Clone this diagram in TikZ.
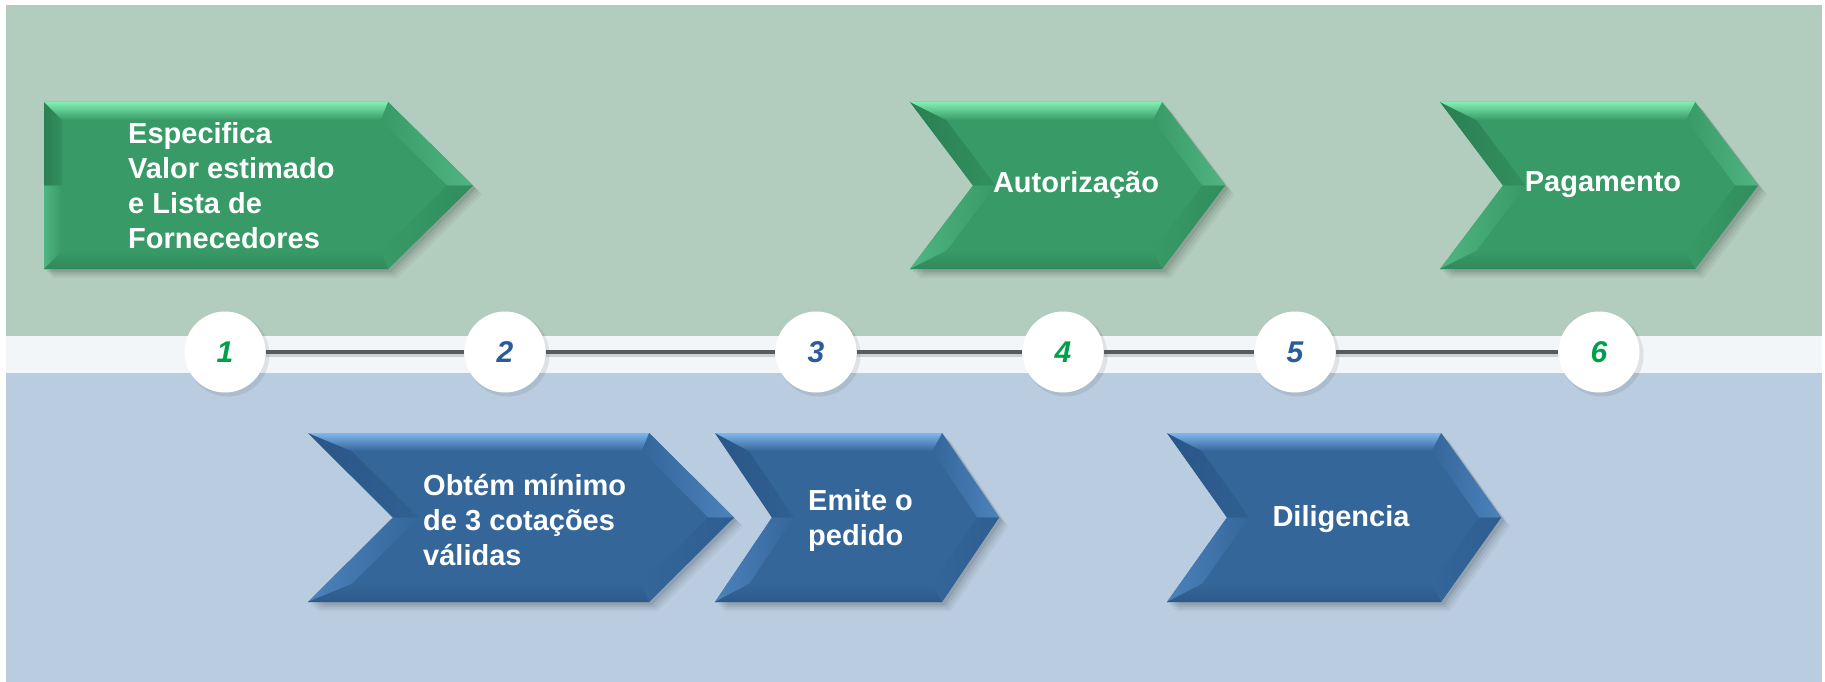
\documentclass[tikz,border=0pt]{standalone}
\usepackage{fontspec}
\setmainfont{Liberation Sans}
\definecolor{bggreen}{HTML}{B2CCBD}
\definecolor{bgblue}{HTML}{BACCDF}
\definecolor{bgwhite}{HTML}{F3F6F8}
\definecolor{gmain}{HTML}{389A67}
\definecolor{glight}{HTML}{4FB582}
\definecolor{gdark}{HTML}{2A8053}
\definecolor{ghi}{HTML}{80EEB2}
\definecolor{bmain}{HTML}{34669A}
\definecolor{blight}{HTML}{4C83BC}
\definecolor{bdark}{HTML}{2A5687}
\definecolor{bhi}{HTML}{7FB6EC}
\definecolor{numgreen}{HTML}{00A04B}
\definecolor{numblue}{HTML}{2B5C99}
\definecolor{linec}{HTML}{5A5A5A}
\tikzset{
  lbl/.style={text=white, font=\fontsize{29}{35}\selectfont\bfseries, align=left, inner sep=0pt},
  numc/.style={circle, fill=white, minimum size=81pt, inner sep=0pt, font=\fontsize{30}{36}\selectfont\bfseries\itshape},
  conn/.style={draw=linec, line width=4pt},
  connsh/.style={draw=black, opacity=0.15, line width=4pt},
}
% #1 x0, #2 notch x, #3 right top x, #4 tip x, #5 top y, #6 bottom y, #7 colour prefix
\newcommand\arrowshape[7]{%
  \pgfmathsetmacro\ym{(#5+#6)/2}%
  \pgfmathsetmacro\bvd{18}%
  \pgfmathsetmacro\mA{(#2-#1)/(\ym-#5)}%
  \pgfmathsetmacro\mB{(#4-#3)/(\ym-#5)}%
  \pgfmathsetmacro\sA{\bvd*sqrt(1+\mA*\mA)}%
  \pgfmathsetmacro\sB{\bvd*sqrt(1+\mB*\mB)}%
  \pgfmathsetmacro\xa{#1+\mA*\bvd+\sA}%
  \pgfmathsetmacro\xf{#2+\sA}%
  \pgfmathsetmacro\xb{#3+\mB*\bvd-\sB}%
  \pgfmathsetmacro\xc{#4-\sB}%
  \pgfmathsetmacro\yt{#5+\bvd}%
  \pgfmathsetmacro\yb{#6-\bvd}%
  \foreach \s/\o in {9/0.04,7/0.05,5/0.06,3/0.08}{%
    \fill[black,opacity=\o,shift={(\s,\s)}] (#1,#5) -- (#3,#5) -- (#4,\ym) -- (#3,#6) -- (#1,#6) -- (#2,\ym) -- cycle;}
  \fill[#7main] (#1,#5) -- (#3,#5) -- (#4,\ym) -- (#3,#6) -- (#1,#6) -- (#2,\ym) -- cycle;
  \shade[left color=#7dark, right color=#7main!60!#7dark] (#1,#5) -- (\xa,\yt) -- (\xf,\ym) -- (#2,\ym) -- cycle;
  \shade[left color=#7light, right color=#7main] (#2,\ym) -- (\xf,\ym) -- (\xa,\yb) -- (#1,#6) -- cycle;
  \shade[left color=#7main, right color=#7light] (#3,#5) -- (#4,\ym) -- (\xc,\ym) -- (\xb,\yt) -- cycle;
  \shade[left color=#7main, right color=#7dark!50!#7main] (#4,\ym) -- (#3,#6) -- (\xb,\yb) -- (\xc,\ym) -- cycle;
  \shade[top color=#7main, bottom color=#7main!88!black] (#1,#6) -- (#3,#6) -- (\xb,\yb) -- (\xa,\yb) -- cycle;
  \shade[top color=#7hi, bottom color=#7main] (#1,#5) -- (#3,#5) -- (\xb,\yt) -- (\xa,\yt) -- cycle;
}
\begin{document}
\begin{tikzpicture}[x=1pt,y=-1pt]
\useasboundingbox (0,0) rectangle (1825,682);
\fill[white] (0,0) rectangle (1825,682);
% background bands
\fill[bggreen] (6,5) rectangle (1822,336);
\fill[bgwhite] (6,336) rectangle (1822,373);
\fill[bgblue] (6,373) rectangle (1822,682);
% green steps
\arrowshape{44}{44}{388}{473}{102}{269}{g}
\arrowshape{910}{973}{1162}{1225}{102}{269}{g}
\arrowshape{1440}{1503}{1695}{1758}{102}{269}{g}
% blue steps
\arrowshape{308}{393}{649}{734}{433}{602}{b}
\arrowshape{715}{772}{942}{999}{433}{602}{b}
\arrowshape{1167}{1227}{1441}{1501}{433}{602}{b}
% texts
\node[lbl, anchor=west] (t1) at (128,186) {Especifica\\Valor estimado\\e Lista de\\Fornecedores};
\node[lbl] (t4) at (1076,185) {Autorização};
\node[lbl] (t6) at (1603,185) {Pagamento};
\node[lbl, anchor=west] (t2) at (423,520) {Obtém mínimo\\de 3 cotações\\válidas};
\node[lbl, anchor=west] (t3) at (808,520) {Emite o\\pedido};
\node[lbl] (t5) at (1341,519) {Diligencia};
% number circles
\foreach \n/\x in {1/225,2/505,3/816,4/1063,5/1295,6/1599}{
  \fill[black,opacity=0.08] (\x+3,355) circle (41.5);
}
\node[numc, text=numgreen] (n1) at (225,352) {1};
\node[numc, text=numblue] (n2) at (505,352) {2};
\node[numc, text=numblue] (n3) at (816,352) {3};
\node[numc, text=numgreen] (n4) at (1063,352) {4};
\node[numc, text=numblue] (n5) at (1295,352) {5};
\node[numc, text=numgreen] (n6) at (1599,352) {6};
\foreach \a/\b in {n1/n2,n2/n3,n3/n4,n4/n5,n5/n6}{
  \draw[connsh] ([yshift=-3pt]\a.east) -- ([yshift=-3pt]\b.west);
  \draw[conn] (\a) -- (\b);
}
\end{tikzpicture}
\end{document}
